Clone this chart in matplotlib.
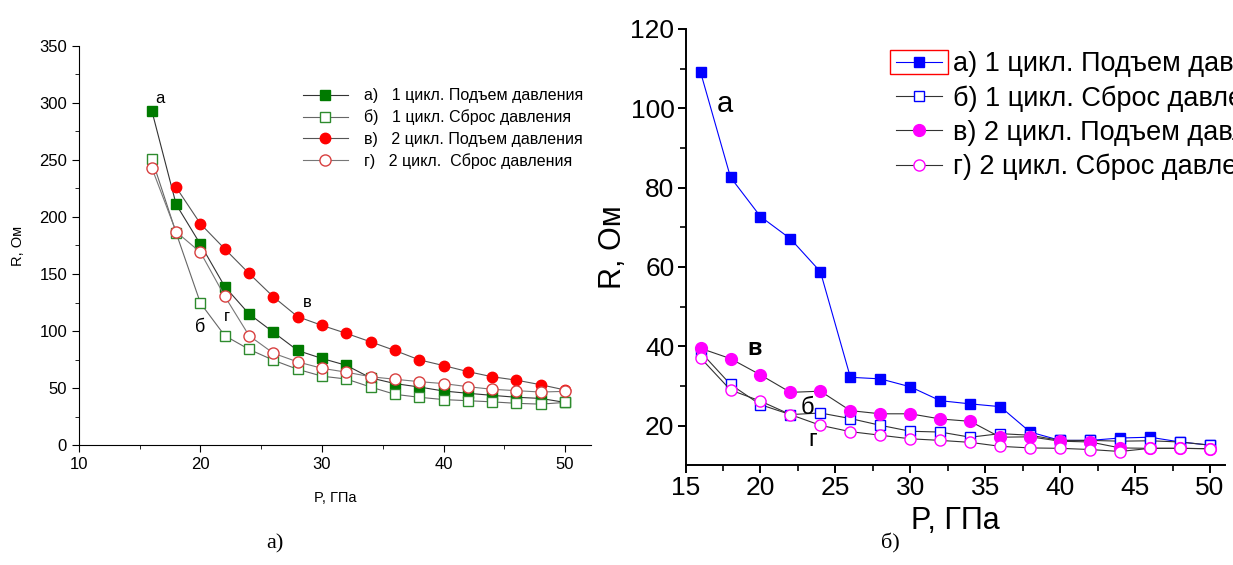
import matplotlib
matplotlib.use('Agg')
import matplotlib.pyplot as plt
from matplotlib.ticker import MultipleLocator
from matplotlib.patches import Rectangle

plt.rcParams['font.family'] = ['Liberation Sans', 'DejaVu Sans']

# ---- left panel (a) data ----
p_left = [16, 18, 20, 22, 24, 26, 28, 30, 32, 34, 36, 38, 40, 42, 44, 46, 48, 50]
r_a1 = [293, 211, 176, 139, 115, 99, 83, 76, 70, 59, 54, 51, 47.5, 45.5, 43.7, 42, 41, 37.5]
r_b1 = [251, 186, 124.5, 96, 84, 74.5, 66.5, 60.5, 58, 51, 44.6, 42, 40, 39, 38, 36.7, 36, 37.5]
p_left_v = [18, 20, 22, 24, 26, 28, 30, 32, 34, 36, 38, 40, 42, 44, 46, 48, 50]
r_v2 = [226, 194, 172, 150.5, 130, 112.6, 105, 98, 90.6, 83, 74.8, 69.8, 64.5, 60, 57, 53, 48.4]
r_g2 = [243, 187, 169, 130.5, 96, 80.6, 73, 67.4, 64, 60, 57.8, 55.7, 54, 51.3, 49, 47.8, 46.6, 47.2]

# ---- right panel (б) data ----
p_right = [16, 18, 20, 22, 24, 26, 28, 30, 32, 34, 36, 38, 40, 42, 44, 46, 48, 50]
q_a1 = [109.1, 82.6, 72.7, 67.1, 58.8, 32.2, 31.8, 29.8, 26.3, 25.5, 24.8, 18.4, 16.3, 16.3, 16.9, 17.1, 15.9, 15.1]
q_b1 = [38.6, 30.4, 25.3, 22.8, 23.2, 21.8, 20.1, 18.6, 18.4, 17.1, 18.0, 17.6, 16.3, 16.3, 16.1, 16.2, 15.9, 15.1]
q_v2 = [39.5, 36.9, 32.8, 28.4, 28.7, 23.8, 23.0, 23.0, 21.7, 21.1, 17.1, 17.2, 16.1, 15.9, 14.4, 14.3, 14.3, 14.2]
q_g2 = [37.1, 29.0, 26.2, 22.8, 20.1, 18.5, 17.6, 16.7, 16.3, 15.8, 14.8, 14.4, 14.3, 14.0, 13.5, 14.3, 14.3, 14.2]

left_labels = ['а)   1 цикл. Подъем давления', 'б)   1 цикл. Сброс давления',
               'в)   2 цикл. Подъем давления', 'г)   2 цикл.  Сброс давления']
right_labels = ['а) 1 цикл. Подъем давления', 'б) 1 цикл. Сброс давления',
                'в) 2 цикл. Подъем давления', 'г) 2 цикл. Сброс давления']

fig = plt.figure(figsize=(12.33, 5.65), dpi=100)

# ================= left =================
ax1 = fig.add_axes([0.064, 0.212, 0.415, 0.707])
green = '#007a00'
red = '#ff0000'
ax1.plot(p_left, r_a1, color='#333333', lw=0.8, marker='s', ms=7, mfc=green, mec=green, label=left_labels[0])
ax1.plot(p_left, r_b1, color='#666666', lw=0.8, marker='s', ms=7, mfc='white', mec='#2e8b2e', mew=1, label=left_labels[1])
ax1.plot(p_left_v, r_v2, color='#555555', lw=0.8, marker='o', ms=7.5, mfc=red, mec=red, label=left_labels[2])
ax1.plot(p_left, r_g2, color='#777777', lw=0.8, marker='o', ms=8, mfc='white', mec='#d84040', mew=1, label=left_labels[3])
ax1.set_xlim(10, 52.1)
ax1.set_ylim(0, 350)
ax1.xaxis.set_major_locator(MultipleLocator(10))
ax1.xaxis.set_minor_locator(MultipleLocator(5))
ax1.yaxis.set_major_locator(MultipleLocator(50))
ax1.yaxis.set_minor_locator(MultipleLocator(25))
ax1.spines['top'].set_visible(False)
ax1.spines['right'].set_visible(False)
ax1.tick_params(which='major', direction='out', length=5, labelsize=12)
ax1.tick_params(which='minor', direction='out', length=3)
ax1.set_xlabel('P, ГПа', fontsize=10.5, labelpad=14)
ax1.set_ylabel('R, Ом', fontsize=10.5, labelpad=10)
ax1.text(16.7, 304, 'а', fontsize=12, ha='center', va='center')
ax1.text(28.8, 125, 'в', fontsize=12, ha='center', va='center')
ax1.text(22.2, 113, 'г', fontsize=12, ha='center', va='center')
ax1.text(20.0, 103, 'б', fontsize=13, ha='center', va='center')
leg1 = ax1.legend(loc='upper left', bbox_to_anchor=(0.41, 0.93), frameon=False, fontsize=11.5,
                  handlelength=2.8, labelspacing=0.4, handletextpad=1.0)
fig.text(0.223, 0.03, 'а)', fontsize=16, family='Liberation Serif', ha='center')

# ================= right =================
ax2 = fig.add_axes([0.556, 0.177, 0.4375, 0.772])
blue = '#0000ff'
mag = '#ff00ff'
ax2.plot(p_right, q_a1, color=blue, lw=0.8, marker='s', ms=7, mfc=blue, mec=blue, label=right_labels[0])
ax2.plot(p_right, q_b1, color='#333333', lw=0.8, marker='s', ms=7, mfc='white', mec=blue, mew=1, label=right_labels[1])
ax2.plot(p_right, q_v2, color='#333333', lw=0.8, marker='o', ms=8.5, mfc=mag, mec=mag, label=right_labels[2])
ax2.plot(p_right, q_g2, color='#333333', lw=0.8, marker='o', ms=8, mfc='white', mec=mag, mew=1, label=right_labels[3])
ax2.set_xlim(15, 51)
ax2.set_ylim(10.1, 120)
ax2.xaxis.set_major_locator(MultipleLocator(5))
ax2.xaxis.set_minor_locator(MultipleLocator(2.5))
ax2.yaxis.set_major_locator(MultipleLocator(20))
ax2.yaxis.set_minor_locator(MultipleLocator(10))
ax2.spines['top'].set_visible(False)
ax2.spines['right'].set_visible(False)
ax2.spines['left'].set_linewidth(1.4)
ax2.spines['bottom'].set_linewidth(1.4)
ax2.tick_params(which='major', direction='out', length=6, width=1.4, labelsize=19, pad=2)
ax2.tick_params(which='minor', direction='out', length=4, width=1.2)
ax2.set_xlabel('P, ГПа', fontsize=22, labelpad=4)
ax2.set_ylabel('R, Ом', fontsize=22, labelpad=2)
ax2.text(17.6, 101, 'а', fontsize=21, ha='center', va='center')
ax2.text(19.6, 39.5, 'в', fontsize=17, fontweight='bold', ha='center', va='center')
ax2.text(23.1, 24.5, 'б', fontsize=17, ha='center', va='center')
ax2.text(23.5, 16.5, 'г', fontsize=17, ha='center', va='center')
leg2 = ax2.legend(loc='upper left', bbox_to_anchor=(0.345, 1.005), frameon=False, fontsize=19.5,
                  handlelength=1.7, labelspacing=0.3, handletextpad=0.4)

# red selection box around the first legend handle
fig.canvas.draw()
renderer = fig.canvas.get_renderer()
h0 = leg2.legend_handles[0]
bb = h0.get_window_extent(renderer)
cy = bb.y0 + bb.height / 2
fig.add_artist(Rectangle(((bb.x0 - 1) / 1233, (cy - 12) / 565), (bb.width + 2) / 1233, 24 / 565,
                         transform=fig.transFigure, fill=False, edgecolor='red', lw=1))
fig.text(0.722, 0.03, 'б)', fontsize=16, family='Liberation Serif', ha='center')

fig.savefig('out.png', dpi=100)
